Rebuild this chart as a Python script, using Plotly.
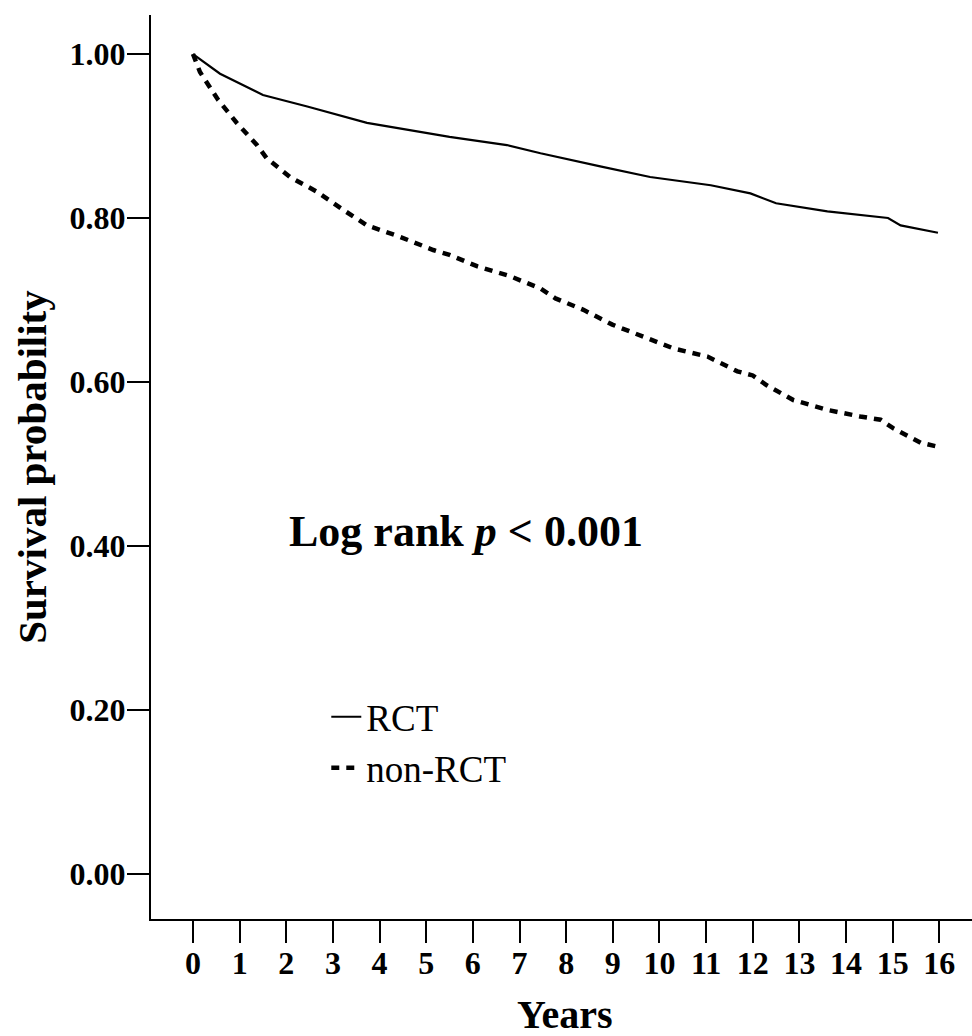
import plotly.graph_objects as go

# Kaplan-Meier survival estimates
rct_years = [0, 0.58, 1.5, 2.45, 3.73, 4.94, 5.5, 6.73, 7.45, 8.73, 9.8, 11.1,
             11.95, 12.5, 13.6, 14.9, 15.17, 15.97]
rct_surv = [1.0, 0.976, 0.950, 0.936, 0.916, 0.904, 0.899, 0.889, 0.879, 0.863,
            0.850, 0.840, 0.830, 0.818, 0.808, 0.800, 0.791, 0.782]

nonrct_years = [0, 0.15, 0.54, 0.94, 1.37, 1.58, 2.08, 2.66, 3.22, 3.73, 4.44,
                5.15, 5.5, 6.1, 6.8, 7.45, 7.77, 8.37, 8.99, 9.66, 10.3, 11.03,
                11.67, 12.0, 12.3, 12.87, 13.6, 14.3, 14.74, 15.0, 15.6, 15.97]
nonrct_surv = [1.0, 0.978, 0.944, 0.916, 0.889, 0.873, 0.850, 0.832, 0.810,
               0.791, 0.777, 0.761, 0.755, 0.741, 0.729, 0.714, 0.702, 0.688,
               0.670, 0.655, 0.641, 0.631, 0.613, 0.608, 0.596, 0.578, 0.566,
               0.558, 0.554, 0.544, 0.526, 0.521]

x_ticks = list(range(0, 17))
y_ticks = [0.0, 0.2, 0.4, 0.6, 0.8, 1.0]

FONT = "Liberation Serif, Times New Roman, serif"

fig = go.Figure()
fig.add_trace(go.Scatter(x=rct_years, y=rct_surv, mode="lines", name="RCT",
                         line=dict(color="black", width=2.2)))
fig.add_trace(go.Scatter(x=nonrct_years, y=nonrct_surv, mode="lines", name="non-RCT",
                         line=dict(color="black", width=4.5, dash="8px,7px")))

fig.add_annotation(x=5.86, y=0.418, xref="x", yref="y",
                   text="<b>Log rank <i>p</i> &lt; 0.001</b>",
                   showarrow=False, font=dict(family=FONT, size=44, color="black"),
                   xanchor="center", yanchor="middle")

# x-axis title placed as a paper-anchored label below the tick labels
fig.add_annotation(x=0.504, y=-0.106, xref="paper", yref="paper",
                   text="<b>Years</b>", showarrow=False,
                   font=dict(family=FONT, size=40, color="black"),
                   xanchor="center", yanchor="middle")

fig.update_layout(
    width=972, height=1036,
    margin=dict(l=151, r=0, t=15, b=117, autoexpand=False),
    paper_bgcolor="white", plot_bgcolor="white",
    font=dict(family=FONT, color="black"),
    showlegend=True,
    legend=dict(x=0.2135, y=0.2575, xanchor="left", yanchor="top",
                font=dict(family=FONT, size=37, color="black"),
                bgcolor="rgba(0,0,0,0)", tracegroupgap=0),
    xaxis=dict(range=[-0.9, 16.7], tickmode="array", tickvals=x_ticks,
               ticktext=[f"<b>{v}</b>" for v in x_ticks], automargin=False,
               showline=True, linecolor="black", linewidth=2,
               ticks="outside", ticklen=22, tickwidth=2, tickcolor="black",
               ticklabelstandoff=-7,
               showgrid=False, zeroline=False,
               tickfont=dict(family=FONT, size=32, color="black")),
    yaxis=dict(range=[-0.0549, 1.0476], tickmode="array", tickvals=y_ticks,
               ticktext=[f"<b>{v:.2f}</b>" for v in y_ticks], automargin=False,
               showline=True, linecolor="black", linewidth=2,
               ticks="outside", ticklen=22, tickwidth=2, tickcolor="black",
               ticklabelstandoff=-5,
               showgrid=False, zeroline=False,
               tickfont=dict(family=FONT, size=32, color="black"),
               title=dict(text="<b>Survival probability</b>",
                          font=dict(family=FONT, size=41), standoff=10)),
)

# remove the default page margin so the figure sits at the window's top-left corner
fig.write_html("out.html", config={"displayModeBar": False},
               post_script="document.body.style.margin='0';document.body.style.overflow='hidden';")
